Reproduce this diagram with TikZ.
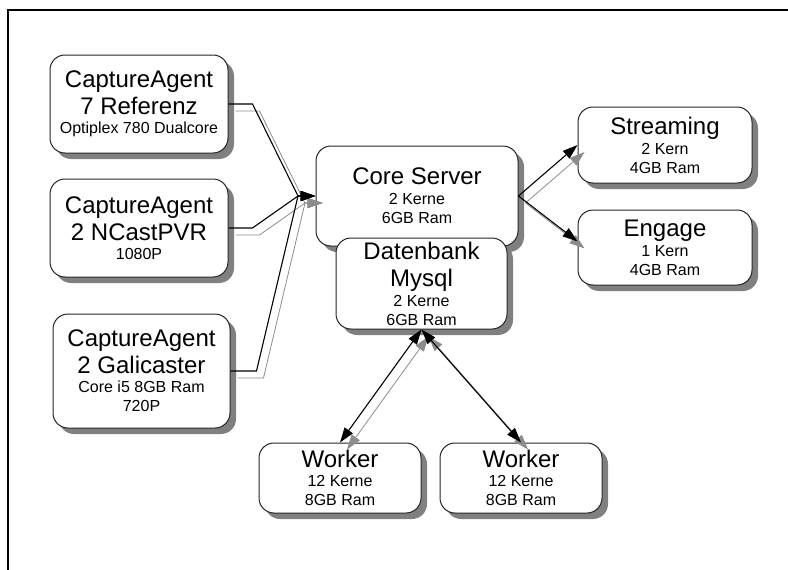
\documentclass[tikz,border=0pt]{standalone}
\usepackage{fontspec}
\setmainfont{Liberation Sans}
\usetikzlibrary{shadows,arrows.meta}
\newcommand{\klein}{\fontsize{16}{19}\selectfont}

\begin{document}
\begin{tikzpicture}[x=1pt, y=-1pt, >={Triangle[length=15pt,width=10pt]},
    titel/.style={font=\fontsize{24}{27}\selectfont, align=center, inner sep=0pt},
    kasten/.style={titel, draw=black!85, line width=1pt, fill=white, rounded corners=15pt,
      drop shadow={shadow xshift=6pt, shadow yshift=-6pt, fill=black!50, opacity=1}}]
  \useasboundingbox (0,0) rectangle (788,570);
  \draw[line width=2.5pt] (7.8,570) -- (7.8,10) -- (788,10);

  % capture agents
  \node[kasten, minimum width=178pt, minimum height=98pt] (ca7) at (139,104)
    {CaptureAgent\\7 Referenz\\[-8pt]\klein Optiplex 780 Dualcore};
  \node[kasten, minimum width=178pt, minimum height=98pt] (ca2) at (139,228)
    {CaptureAgent\\2 NCastPVR\\[-8pt]\klein 1080P};
  \node[kasten, minimum width=177pt, minimum height=114pt] (gali) at (141.5,371)
    {CaptureAgent\\2 Galicaster\\[-8pt]\klein Core i5 8GB Ram\\[-8pt]\klein 720P};

  % server
  \node[kasten, minimum width=202pt, minimum height=100pt] (core) at (417,196) {};
  \node[titel, anchor=north] (coretext) at (417,167.5)
    {Core Server\\[-7pt]\klein 2 Kerne\\[-8pt]\klein 6GB Ram};
  \node[kasten, minimum width=171pt, minimum height=91pt] (db) at (421.5,283.5)
    {Datenbank\\Mysql\\[-7pt]\klein 2 Kerne\\[-8pt]\klein 6GB Ram};
  \node[kasten, minimum width=174pt, minimum height=76pt] (streaming) at (665,145)
    {Streaming\\[-7pt]\klein 2 Kern\\[-8pt]\klein 4GB Ram};
  \node[kasten, minimum width=174pt, minimum height=75pt] (engage) at (665,247.5)
    {Engage\\[-7pt]\klein 1 Kern\\[-8pt]\klein 4GB Ram};
  \node[kasten, minimum width=162pt, minimum height=70pt] (worker1) at (340,478)
    {Worker\\[-8pt]\klein 12 Kerne\\[-8pt]\klein 8GB Ram};
  \node[kasten, minimum width=162pt, minimum height=70pt] (worker2) at (521,478)
    {Worker\\[-8pt]\klein 12 Kerne\\[-8pt]\klein 8GB Ram};

  % connectors, first the grey shadow copy
  \coordinate (merge) at (298,196);
  \foreach \farbe/\versatz/\breite in {black!45/7pt/0.8pt, black/0pt/1.1pt}{
    \begin{scope}[color=\farbe, line width=\breite, transform canvas={xshift=\versatz, yshift=-\versatz}]
      \draw[->] (ca7.east) -- ++(24,0) -- (merge) -- (core.west);
      \draw[->] (ca2.east) -- ++(24,0) -- (merge) -- (core.west);
      \draw[->] (gali.east) -- ++(26,0) -- (merge) -- (core.west);
      \draw[->] (core.east) -- (streaming.west);
      \draw[->] (core.east) -- (engage.176);
      \draw[<->] (worker1.north) -- (db.south);
      \draw[<->] (worker2.north) -- (db.south);
    \end{scope}
  }
\end{tikzpicture}
\end{document}
